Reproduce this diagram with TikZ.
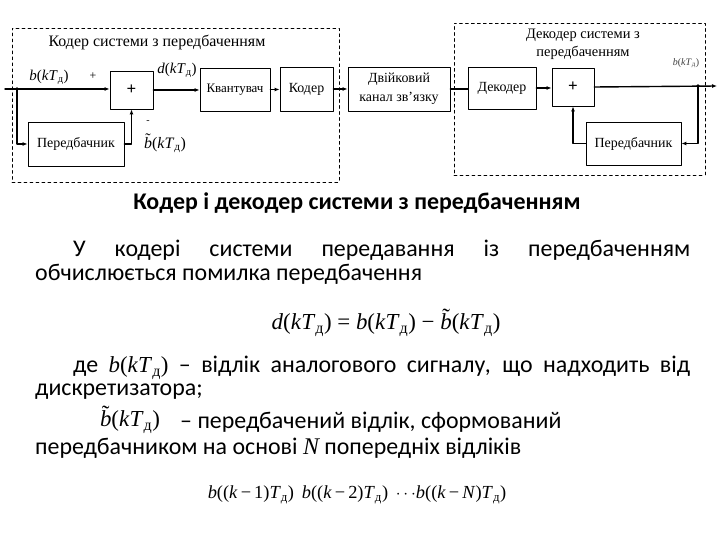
\documentclass[tikz,border=0pt]{standalone}
\usepackage{fontspec}
\setmainfont{Liberation Serif}
\newfontfamily\bodyfont{Carlito}
\usetikzlibrary{arrows.meta}
\tikzset{every path/.style={line cap=round,line join=round}}

\newcommand\Td{\textit{T}\textsubscript{д}} % sampling period
\newcommand\bkt{\textit{b}(\textit{k}\Td)}
\newcommand\btil{\leavevmode\hbox{\ooalign{\textit{b}\cr\hidewidth\raisebox{0.24em}{\char"02DC}\hidewidth\cr}}}

\begin{document}
\begin{tikzpicture}[x=1bp,y=-1bp,
  blk/.style={draw,line width=0.8bp,inner sep=1bp,align=center,font=\fontsize{14}{16}\selectfont},
  sumbox/.style={blk,minimum width=43bp,minimum height=38bp,font=\bfseries\fontsize{17}{17}\selectfont},
  frame/.style={draw,dashed,line width=0.6bp},
  sig/.style={line width=1.4bp,-{Latex[length=5bp,width=4bp]}},
  wire/.style={line width=1.4bp},
  lbl/.style={inner sep=0pt,font=\fontsize{15}{17}\selectfont},
  body/.style={anchor=west,inner sep=0pt,font=\bodyfont\fontsize{24}{28}\selectfont},
  eqn/.style={inner sep=0pt,font=\fontsize{23}{27}\selectfont}]
\useasboundingbox (0,0) rectangle (720,540);

% dashed frames
\node[frame,minimum width=327bp,minimum height=154bp] (encframe) at (175.5,105) {};
\node[frame,minimum width=251bp,minimum height=152bp] (decframe) at (579.5,99) {};
\node[lbl,font=\fontsize{16}{18}\selectfont] (enctitle) at (157,42) {Кодер системи з передбаченням};
\node[lbl,align=center,font=\fontsize{14.5}{18}\selectfont] (dectitle) at (583,44) {Декодер системи з\\передбаченням};

% encoder
\node[sumbox] (sum1) at (131.5,90) {+};
\node[blk,minimum width=70bp,minimum height=43bp,font=\fontsize{13}{15}\selectfont] (quant) at (235,89.5) {Квантувач};
\node[blk,minimum width=53bp,minimum height=44bp] (cod) at (306.5,89) {Кодер};
\node[blk,minimum width=96bp,minimum height=44bp] (pred1) at (76,144) {Передбачник};
\node[blk,minimum width=102bp,minimum height=44bp,font=\fontsize{14}{19}\selectfont] (chan) at (399,89) {Двійковий\\канал зв’язку};

% decoder
\node[blk,minimum width=68bp,minimum height=42bp] (decod) at (502,88) {Декодер};
\node[sumbox,minimum width=42bp] (sum2) at (573,87) {+};
\node[blk,minimum width=95bp,minimum height=43bp] (pred2) at (633.5,143.5) {Передбачник};

\coordinate (in1) at (5,89);
\coordinate (j1) at (17,89);
\coordinate (j2) at (698,86);
\coordinate (out2) at (717,86);

% encoder connections
\draw[wire] (in1) -- (j1);
\draw[sig] (j1) -- (j1 -| sum1.west);
\draw[sig] (j1) |- (pred1.west);
\draw[sig] (pred1.east) -| (sum1.south);
\draw[sig] (sum1.east) -- (sum1.east -| quant.west);
\draw[sig] (quant.east) -- (quant.east -| cod.west);
\draw[sig] (cod.east) -- (cod.east -| chan.west);
\fill (j1) circle (1.8bp);

% decoder connections
\draw[wire] (chan.east) -- (chan.east -| decod.west);
\draw[sig] (decod.east) -- (decod.east -| sum2.west);
\draw[sig] (sum2.east) -- (out2);
\draw[sig] (j2) |- (pred2.east);
\draw[sig] (pred2.west) -| (sum2.south);
\fill (j2) circle (1.8bp);

% signal labels
\node[lbl] (lb) at (49,77) {\bkt};
\node[lbl,font=\fontsize{12}{12}\selectfont] (lplus) at (93,76) {+};
\node[lbl] (ld) at (177,70) {\textit{d}(\textit{k}\Td)};
\node[lbl,font=\fontsize{10}{10}\selectfont] (lminus) at (148,122) {-};
\node[lbl,font=\fontsize{16}{18}\selectfont] (lbt) at (165,145) {\btil(\textit{k}\Td)};
\node[lbl,font=\fontsize{10}{12}\selectfont,text=black!75] (lout) at (686,63) {\bkt};

% text
\node[font=\bodyfont\bfseries\fontsize{24}{28}\selectfont] (head) at (357,203) {Кодер і декодер системи з передбаченням};
\node[body] (t1) at (73,250) {\makebox[617bp][s]{У кодері системи передавання із передбаченням}};
\node[body] (t2) at (35,274) {обчислюється помилка передбачення};
\node[eqn] (eq1) at (386,325) {\textit{d}(\textit{k}\Td) = \bkt{} − \btil(\textit{k}\Td)};
\node[body] (t3) at (73,368) {\makebox[617bp][s]{де {\rmfamily\fontsize{23}{23}\selectfont\bkt} – відлік аналогового сигналу, що надходить від}};
\node[body] (t4) at (35,392) {дискретизатора;};
\node[eqn] (eq2) at (130,422) {\btil(\textit{k}\Td)};
\node[body] (t5) at (180,422) {– передбачений відлік, сформований};
\node[body] (t6) at (35,448) {передбачником на основі {\rmfamily\itshape N} попередніх відліків};
\node[eqn,font=\fontsize{18.5}{22}\selectfont] (eq3) at (357,495) {\textit{b}((\textit{k}\,−\,1)\Td)\, \textit{b}((\textit{k}\,−\,2)\Td)\, $\cdots$\textit{b}((\textit{k}\,−\,\textit{N})\Td)};
\end{tikzpicture}
\end{document}
